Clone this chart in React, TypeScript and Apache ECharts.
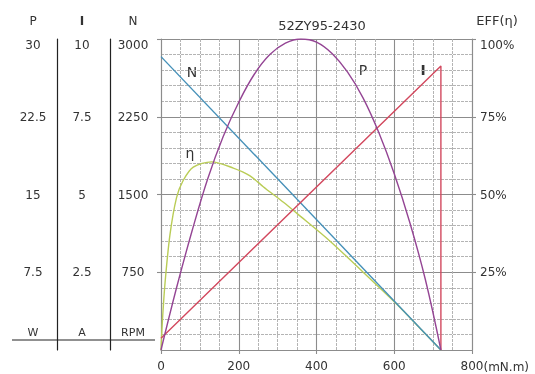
import React, { useEffect, useRef } from "react";
import * as echarts from "echarts";

// ---- data ----
const torqueAxisTicks = [0, 200, 400, 600, 800];

const speedTorque = [0, 720];
const speedRPM = [2830, 0];

const currentTorque = [0, 720, 720];
const currentA = [0.38, 9.13, 0];

const powerTorque = [0, 40, 80, 120, 160, 200, 240, 280, 320, 360, 400, 440, 480, 520, 560, 600, 640, 680, 720];
const powerW = [0, 6.0, 11.5, 16.5, 20.6, 23.9, 26.6, 28.5, 29.6, 30.0, 29.7, 28.6, 26.8, 24.3, 21.0, 17.0, 12.3, 6.8, 0];

const effTorque = [0, 3, 10, 23, 40, 57, 83, 130, 186, 229, 263, 315, 349, 435, 520, 606, 683, 720];
const effPct = [0, 8, 21, 37, 49, 54.5, 58.8, 60.5, 58.5, 56, 52.5, 47.5, 44, 35, 25, 14.8, 4.8, 0];

const FONT = "DejaVu Sans";
const TXT = "#333";

function pairs(xs: number[], ys: number[]) {
  return xs.map((x, i) => [x, ys[i]]);
}

export default function App() {
  const ref = useRef<HTMLDivElement>(null);
  useEffect(() => {
    if (!ref.current) return;
    const chart = echarts.init(ref.current, undefined, { renderer: "svg" });
    const minorLine = { color: "#b4b4b4", width: 1, type: [3, 1] as any };
    const majorLine = { color: "#8c8c8c", width: 1.1 };
    const label = { fontFamily: FONT, fontSize: 12, color: TXT };
    const plain = (v: number) => String(v);
    const txt = (text: string, x: number, y: number, size = 12, bold = false, align = "center") => ({
      type: "text",
      x,
      y,
      style: {
        text,
        fill: TXT,
        fontFamily: FONT,
        fontSize: size,
        fontWeight: bold ? "bold" : "normal",
        textAlign: align,
        textVerticalAlign: "middle",
      },
    });
    chart.setOption({
      animation: false,
      title: {
        text: "52ZY95-2430",
        left: 317,
        top: 14,
        textAlign: "center",
        textStyle: { fontFamily: FONT, fontSize: 13, fontWeight: "normal", color: TXT },
      },
      grid: { left: 161, top: 39, width: 311, height: 311, containLabel: false },
      xAxis: {
        type: "value",
        min: torqueAxisTicks[0],
        max: torqueAxisTicks[torqueAxisTicks.length - 1],
        interval: 200,
        axisLine: { show: true, lineStyle: majorLine },
        axisTick: { show: true, length: 4, lineStyle: majorLine },
        axisLabel: { ...label, margin: 10, formatter: plain },
        splitLine: { show: true, lineStyle: majorLine },
        minorTick: { show: false, splitNumber: 4 },
        minorSplitLine: { show: true, lineStyle: minorLine },
      },
      yAxis: [
        {
          type: "value",
          min: 0,
          max: 3000,
          interval: 750,
          position: "left",
          axisLine: { show: true, lineStyle: majorLine },
          axisTick: { show: true, length: 4, lineStyle: majorLine },
          axisLabel: { ...label, margin: 28, align: "center", formatter: plain, showMinLabel: false, verticalAlignMaxLabel: "top" },
          splitLine: { show: true, lineStyle: majorLine },
          minorTick: { show: false, splitNumber: 5 },
          minorSplitLine: { show: true, lineStyle: minorLine },
        },
        {
          type: "value",
          min: 0,
          max: 10,
          interval: 2.5,
          position: "left",
          offset: 51,
          axisLine: { show: true, lineStyle: { color: "#222", width: 1.2 } },
          axisTick: { show: false },
          axisLabel: { ...label, margin: 28, align: "center", formatter: plain, showMinLabel: false, verticalAlignMaxLabel: "top" },
          splitLine: { show: false },
        },
        {
          type: "value",
          min: 0,
          max: 30,
          interval: 7.5,
          position: "left",
          offset: 104,
          axisLine: { show: true, lineStyle: { color: "#222", width: 1.2 } },
          axisTick: { show: false },
          axisLabel: { ...label, margin: 24, align: "center", formatter: plain, showMinLabel: false, verticalAlignMaxLabel: "top" },
          splitLine: { show: false },
        },
        {
          type: "value",
          min: 0,
          max: 100,
          interval: 25,
          position: "right",
          axisLine: { show: true, lineStyle: majorLine },
          axisTick: { show: true, length: 4, lineStyle: majorLine },
          axisLabel: { ...label, margin: 8, formatter: "{value}%", showMinLabel: false, verticalAlignMaxLabel: "top" },
          splitLine: { show: false },
        },
      ],
      series: [
        {
          name: "η",
          type: "line",
          yAxisIndex: 3,
          data: pairs(effTorque, effPct),
          smooth: 0.3,
          showSymbol: false,
          lineStyle: { color: "#b9cc55", width: 1.4 },
        },
        {
          name: "N",
          type: "line",
          yAxisIndex: 0,
          data: pairs(speedTorque, speedRPM),
          showSymbol: false,
          lineStyle: { color: "#4590b8", width: 1.4 },
        },
        {
          name: "I",
          type: "line",
          yAxisIndex: 1,
          data: pairs(currentTorque, currentA),
          showSymbol: false,
          lineStyle: { color: "#d2485e", width: 1.4 },
        },
        {
          name: "P",
          type: "line",
          yAxisIndex: 2,
          data: pairs(powerTorque, powerW),
          smooth: 0.4,
          showSymbol: false,
          lineStyle: { color: "#944594", width: 1.4 },
        },
      ],
      graphic: [
        { type: "line", shape: { x1: 12, y1: 340, x2: 155, y2: 340 }, style: { stroke: "#222", lineWidth: 1.2 } },
        txt("P", 33, 21),
        txt("I", 82, 21, 12, true),
        txt("N", 133, 21),
        txt("W", 33, 332, 11),
        txt("A", 82, 332, 11),
        txt("RPM", 133, 332, 11),
        txt("EFF(η)", 497, 20, 13),
        txt("(mN.m)", 483.5, 367, 12, false, "left"),
        txt("N", 192, 72, 14),
        txt("P", 363, 70, 14),
        txt("I", 423, 70, 14, true),
        txt("η", 190, 153, 14),
      ],
    });
    return () => chart.dispose();
  }, []);
  return <div ref={ref} style={{ position: "fixed", left: 0, top: 0, width: 535, height: 374 }} />;
}
